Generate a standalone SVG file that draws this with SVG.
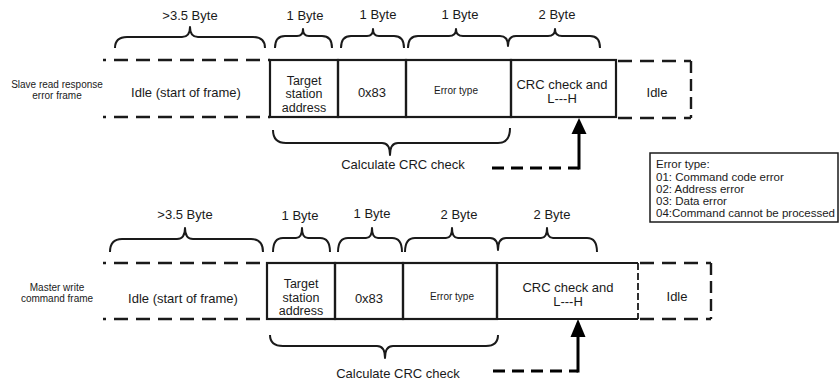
<svg xmlns="http://www.w3.org/2000/svg" width="840" height="381" viewBox="0 0 840 381">
<style>
text{font-family:"Liberation Sans",Arial,sans-serif;fill:#1a1a1a}
.t13{font-size:13px;text-anchor:middle}
.t12{font-size:12.5px;text-anchor:middle}
.t10{font-size:10px;text-anchor:middle}
.eb{font-size:11.5px}
.solid{stroke:#1a1a1a;stroke-width:2.2;fill:none}
.dash{stroke:#1a1a1a;stroke-width:2.6;fill:none;stroke-dasharray:14 8}
.vdash{stroke:#1a1a1a;stroke-width:2.4;fill:none;stroke-dasharray:12 6}
.brace{stroke:#1a1a1a;stroke-width:2;fill:none;stroke-linejoin:round}
.arr{stroke:#000;stroke-width:3;fill:none}
.arrd{stroke:#000;stroke-width:3.2;fill:none;stroke-dasharray:12 7}
</style>
<rect width="840" height="381" fill="#fff"/>

<!-- Frame 1 -->
<g id="frame1-label"><text class="t10" x="57" y="88">Slave read response</text><text class="t10" x="57" y="99">error frame</text></g>
<g id="f1-idle-start">
<line class="dash" x1="103" y1="60" x2="270" y2="60" stroke-dashoffset="11"/>
<line class="dash" x1="103" y1="117" x2="270" y2="117" stroke-dashoffset="11"/>
<text class="t13" x="186" y="97">Idle (start of frame)</text>
</g>
<g id="f1-target">
<rect class="solid" x="270" y="60" width="68" height="57"/>
<text class="t12" x="304" y="84.5">Target</text><text class="t12" x="304" y="98">station</text><text class="t12" x="304" y="111.5">address</text>
</g>
<g id="f1-code">
<rect class="solid" x="338" y="60" width="68" height="57"/>
<text class="t13" x="372" y="97">0x83</text>
</g>
<g id="f1-err">
<rect class="solid" x="406" y="60" width="105" height="57"/>
<text class="t10" x="456" y="94">Error type</text>
</g>
<g id="f1-crc">
<rect class="solid" x="511" y="60" width="105" height="57"/>
<text class="t13" x="562" y="89">CRC check and</text><text class="t13" x="562" y="103">L---H</text>
</g>
<g id="f1-idle-end">
<line class="dash" x1="618" y1="61" x2="691" y2="61"/>
<line class="vdash" x1="691" y1="61" x2="691" y2="118"/>
<line class="dash" x1="618" y1="118" x2="691" y2="118"/>
<text class="t13" x="657" y="97">Idle</text>
</g>
<g id="f1-braces">
<path class="brace" d="M115 48 Q115 37 127 37 L182 37 Q190 37 190 27 Q190 37 198 37 L253 37 Q265 37 265 48"/>
<path class="brace" d="M275 48 Q275 36 285 36 L297 36 Q303 36 303 29 Q303 36 309 36 L322 36 Q332 36 332 48"/>
<path class="brace" d="M341 48 Q341 36 351 36 L367 36 Q373 36 373 29 Q373 36 379 36 L394 36 Q404 36 404 48"/>
<path class="brace" d="M408 48 Q408 36 418 36 L449 36 Q456 36 456 29 Q456 36 463 36 L500 36 Q508 36 508 46 Q508 36 516 36 L548 36 Q555 36 555 29 Q555 36 562 36 L590 36 Q600 36 600 48"/>
<text class="t13" x="190" y="20">&gt;3.5 Byte</text>
<text class="t13" x="305" y="20">1 Byte</text>
<text class="t13" x="378" y="19">1 Byte</text>
<text class="t13" x="460" y="19">1 Byte</text>
<text class="t13" x="557" y="19">2 Byte</text>
<path class="brace" d="M273 130 Q273 143 286 143 L382 143 Q390 143 390 155 Q390 143 398 143 L498 143 Q510 143 510 128"/>
<text class="t13" x="403" y="169">Calculate CRC check</text>
</g>
<g id="connectors">
<line class="arrd" x1="492" y1="168" x2="579" y2="168"/>
<line class="arr" x1="579" y1="169.5" x2="579" y2="130"/>
<polygon points="579,118 571.5,134 586.5,134" fill="#000"/>
<line class="arrd" x1="493" y1="371" x2="578" y2="371"/>
<line class="arr" x1="578" y1="372.5" x2="578" y2="333"/>
<polygon points="578,319 570.5,337 585.5,337" fill="#000"/>
</g>

<!-- Error type legend -->
<g id="error-legend">
<rect x="650" y="153" width="188" height="69" fill="#fff" stroke="#1a1a1a" stroke-width="1.5"/>
<text class="eb" x="656" y="168">Error type:</text>
<text class="eb" x="656" y="180.5">01: Command code error</text>
<text class="eb" x="656" y="192.5">02: Address error</text>
<text class="eb" x="656" y="205">03: Data error</text>
<text class="eb" x="656" y="217">04:Command cannot be processed</text>
</g>

<!-- Frame 2 -->
<g id="frame2-label"><text class="t10" x="57" y="291">Master write</text><text class="t10" x="57" y="302">command frame</text></g>
<g id="f2-idle-start">
<line class="dash" x1="103" y1="263" x2="267" y2="263" stroke-dashoffset="11"/>
<line class="dash" x1="103" y1="319" x2="267" y2="319" stroke-dashoffset="11"/>
<text class="t13" x="183" y="303">Idle (start of frame)</text>
</g>
<g id="f2-target">
<rect class="solid" x="267" y="263" width="68" height="56"/>
<text class="t12" x="301" y="288">Target</text><text class="t12" x="301" y="301.5">station</text><text class="t12" x="301" y="315">address</text>
</g>
<g id="f2-code">
<rect class="solid" x="335" y="263" width="68" height="56"/>
<text class="t13" x="369" y="303">0x83</text>
</g>
<g id="f2-err">
<rect class="solid" x="403" y="263" width="94" height="56"/>
<text class="t10" x="452" y="300">Error type</text>
</g>
<g id="f2-crc">
<path class="solid" d="M497 263 L638 263 M497 319 L638 319 M497 263 L497 319"/>
<line stroke="#1a1a1a" stroke-width="1.8" stroke-dasharray="7 3" x1="638" y1="263" x2="638" y2="319"/>
<text class="t13" x="568" y="292">CRC check and</text><text class="t13" x="568" y="306">L---H</text>
</g>
<g id="f2-idle-end">
<line class="dash" x1="640" y1="263" x2="711" y2="263"/>
<line class="vdash" x1="711" y1="263" x2="711" y2="319"/>
<line class="dash" x1="640" y1="319" x2="711" y2="319"/>
<text class="t13" x="677" y="301">Idle</text>
</g>
<g id="f2-braces">
<path class="brace" d="M110 252 Q110 239 122 239 L177 239 Q185 239 185 228 Q185 239 193 239 L251 239 Q263 239 263 252"/>
<path class="brace" d="M273 252 Q273 238 283 238 L296 238 Q302 238 302 228 Q302 238 308 238 L320 238 Q330 238 330 252"/>
<path class="brace" d="M338 252 Q338 238 348 238 L366 238 Q372 238 372 228 Q372 238 378 238 L392 238 Q402 238 402 252"/>
<path class="brace" d="M405 252 Q405 238 415 238 L446 238 Q452 238 452 228 Q452 238 458 238 L490 238 Q498 238 498 250 Q498 238 506 238 L541 238 Q547 238 547 228 Q547 238 553 238 L587 238 Q597 238 597 252"/>
<text class="t13" x="185" y="219">&gt;3.5 Byte</text>
<text class="t13" x="300" y="220">1 Byte</text>
<text class="t13" x="372" y="218">1 Byte</text>
<text class="t13" x="459" y="219">2 Byte</text>
<text class="t13" x="552" y="219">2 Byte</text>
<path class="brace" d="M270 335 Q270 346 283 346 L377 346 Q385 346 385 358 Q385 346 393 346 L486 346 Q498 346 498 335"/>
<text class="t13" x="398" y="378">Calculate CRC check</text>
</g>
</svg>
